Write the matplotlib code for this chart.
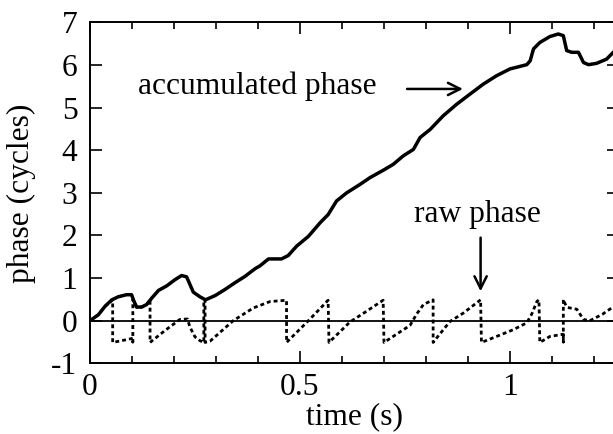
import matplotlib
matplotlib.use("Agg")
import matplotlib.pyplot as plt

# ---- data ----
acc_t = [0, 0.02, 0.036, 0.052, 0.067, 0.087, 0.099, 0.105, 0.111, 0.123, 0.135, 0.147,
         0.163, 0.183, 0.202, 0.218, 0.230, 0.238, 0.246, 0.262, 0.275, 0.298, 0.321,
         0.345, 0.369, 0.393, 0.405, 0.425, 0.456, 0.472, 0.492, 0.520, 0.548, 0.567,
         0.587, 0.611, 0.643, 0.667, 0.698, 0.722, 0.746, 0.770, 0.786, 0.810, 0.841,
         0.873, 0.905, 0.936, 0.968, 1.0, 1.040, 1.048, 1.056, 1.071, 1.095, 1.115,
         1.127, 1.135, 1.147, 1.163, 1.175, 1.187, 1.206, 1.230, 1.246, 1.26]
acc_phase = [0, 0.14, 0.34, 0.49, 0.56, 0.61, 0.61, 0.45, 0.32, 0.32, 0.38, 0.53,
             0.71, 0.82, 0.96, 1.06, 1.03, 0.85, 0.67, 0.56, 0.49, 0.59, 0.73,
             0.89, 1.04, 1.22, 1.29, 1.45, 1.45, 1.53, 1.75, 1.98, 2.30, 2.49,
             2.81, 3.00, 3.20, 3.36, 3.53, 3.67, 3.87, 4.02, 4.30, 4.49, 4.81,
             5.08, 5.32, 5.55, 5.75, 5.91, 6.01, 6.10, 6.38, 6.53, 6.67, 6.73,
             6.69, 6.34, 6.30, 6.30, 6.06, 6.01, 6.04, 6.14, 6.30, 6.40]

raw_t = [0, 0.02, 0.036, 0.054, 0.054, 0.075, 0.099, 0.102, 0.102, 0.102, 0.106, 0.111,
         0.123, 0.135, 0.143, 0.143, 0.18, 0.214, 0.232, 0.238, 0.25, 0.262, 0.271,
         0.271, 0.274, 0.274, 0.286, 0.31, 0.341, 0.389, 0.429, 0.468, 0.468, 0.52,
         0.567, 0.569, 0.619, 0.655, 0.698, 0.700, 0.762, 0.778, 0.794, 0.817, 0.817,
         0.825, 0.857, 0.889, 0.93, 0.932, 0.968, 1.008, 1.04, 1.052, 1.064, 1.069,
         1.071, 1.095, 1.125, 1.127, 1.127, 1.127, 1.131, 1.137, 1.159, 1.175, 1.19,
         1.22, 1.245, 1.26]
raw_phase = [0, 0.14, 0.34, 0.49, -0.51, -0.47, -0.42, -0.41, -0.5, 0.5, 0.42, 0.32,
             0.32, 0.38, 0.49, -0.51, -0.22, 0.03, 0.04, -0.15, -0.38, -0.47, -0.51,
             0.49, 0.49, -0.51, -0.48, -0.27, 0.0, 0.30, 0.45, 0.48, -0.51, 0.0,
             0.48, -0.51, -0.03, 0.2, 0.48, -0.51, -0.11, 0.16, 0.38, 0.49, -0.51,
             -0.41, -0.02, 0.18, 0.49, -0.51, -0.37, -0.21, -0.05, 0.16, 0.45, 0.49,
             -0.51, -0.37, -0.32, -0.32, -0.5, 0.5, 0.40, 0.31, 0.27, 0.03, 0.0,
             0.15, 0.32, 0.42]

x_major = [0, 0.5, 1]
x_major_labels = ["0", "0.5", "1"]
y_ticks = [-1, 0, 1, 2, 3, 4, 5, 6, 7]

plt.rcParams['font.family'] = ['Liberation Serif', 'DejaVu Serif']
plt.rcParams['axes.unicode_minus'] = False

fig = plt.figure(figsize=(6.13, 4.34), dpi=100)
ax = fig.add_axes([0.1468, 0.1629, 0.8633, 0.7853])

FS = 22.7
ax.plot(acc_t, acc_phase, color='black', lw=2.5, solid_joinstyle='round')
ax.plot(raw_t, raw_phase, color='black', lw=2.0, linestyle=(0, (1.4, 1.1)))
ax.axhline(0, color='black', lw=1.3)

ax.set_xlim(0, 1.26)
ax.set_ylim(-1, 7)
ax.set_xticks(x_major)
ax.set_xticklabels(x_major_labels)
ax.set_xticks([0.1, 0.2, 0.3, 0.4, 0.6, 0.7, 0.8, 0.9, 1.1, 1.2], minor=True)
ax.set_yticks(y_ticks)
ax.set_yticklabels([str(v) for v in y_ticks])

ax.tick_params(which='both', direction='in', top=True, right=True, width=1.2,
               labelsize=FS, color='black')
ax.tick_params(which='major', length=8.5)
ax.tick_params(axis='x', which='major', pad=7)
ax.tick_params(axis='y', which='major', pad=9)
ax.tick_params(which='minor', length=5)
for s in ax.spines.values():
    s.set_linewidth(1.4)

ax.set_xlabel("time (s)", fontsize=FS, labelpad=0)
ax.set_ylabel("phase (cycles)", fontsize=FS, labelpad=11)

ax.text(0.114, 5.32, "accumulated phase", fontsize=FS, va='baseline', ha='left')
ax.annotate("", xy=(0.888, 5.44), xytext=(0.755, 5.44),
            arrowprops=dict(arrowstyle='->', lw=1.8, color='black', mutation_scale=22,
                            shrinkA=0, shrinkB=0))
ax.text(0.771, 2.31, "raw phase", fontsize=FS, va='baseline', ha='left')
ax.annotate("", xy=(0.93, 0.69), xytext=(0.93, 1.95),
            arrowprops=dict(arrowstyle='->', lw=1.8, color='black', mutation_scale=22,
                            shrinkA=0, shrinkB=0))

fig.savefig("out.png", dpi=100)
